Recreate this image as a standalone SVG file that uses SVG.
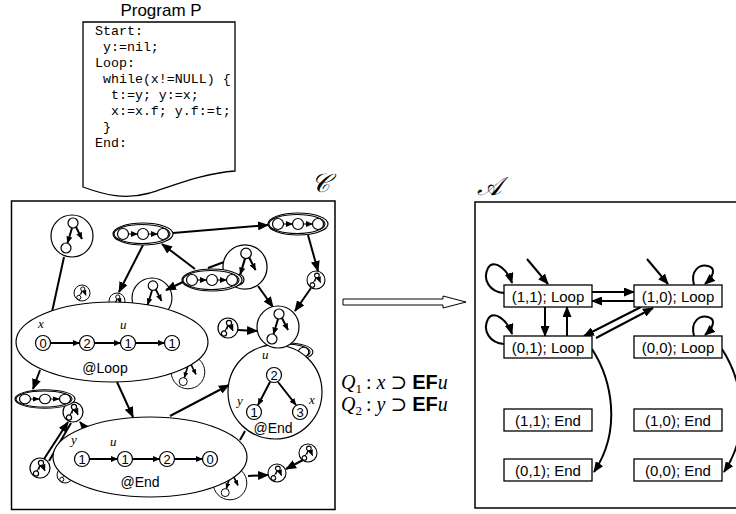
<svg xmlns="http://www.w3.org/2000/svg" xmlns:xlink="http://www.w3.org/1999/xlink" width="736" height="514" viewBox="0 0 736 514">
<style>
.ln{fill:none;stroke:#000;stroke-width:2}
.tl{fill:none;stroke:#000;stroke-width:1.1}
.wf{fill:#fff;stroke:#000;stroke-width:1.2}
.bx{fill:#fff;stroke:#000;stroke-width:1.3}
.mono{font-family:"Liberation Mono","Courier New",monospace;font-size:13.3px}
.sans{font-family:"Liberation Sans",Arial,sans-serif}
.it{font-family:"Liberation Serif","DejaVu Serif",serif;font-style:italic}
.nd{font-family:"Liberation Sans",Arial,sans-serif;font-size:13px;text-anchor:middle}
.st{font-family:"Liberation Sans",Arial,sans-serif;font-size:15px;text-anchor:middle}
</style>
<defs>
<marker id="ah" markerWidth="11" markerHeight="9" refX="10" refY="4.5" orient="auto" markerUnits="userSpaceOnUse"><path d="M0,0 L11,4.5 L0,9 z"/></marker>
<marker id="as" markerWidth="7" markerHeight="6" refX="6.5" refY="3" orient="auto" markerUnits="userSpaceOnUse"><path d="M0,0 L7,3 L0,6 z"/></marker>
<g id="tr">
<circle r="10" class="wf"/>
<circle cx="1" cy="-5" r="2.6" class="wf"/>
<circle cx="-4" cy="5.5" r="2.6" class="wf"/>
<line x1="0" y1="-2.5" x2="-3" y2="3" class="tl"/>
<line x1="-0.5" y1="-2.5" x2="-1" y2="1.5" class="tl"/>
<line x1="2.5" y1="-3" x2="5" y2="3" class="tl" marker-end="url(#as)"/>
</g>
<g id="pr">
<circle r="21" class="wf"/>
<circle cx="1" cy="-13" r="5" class="wf"/>
<circle cx="-6" cy="12" r="5" class="wf"/>
<line x1="0" y1="-8" x2="-4.5" y2="7" class="ln" stroke-width="1.6" marker-end="url(#as)"/>
<line x1="4" y1="-9" x2="10" y2="3" class="ln" stroke-width="1.6" marker-end="url(#as)"/>
</g>
<g id="ch">
<ellipse rx="30" ry="11" class="wf"/>
<ellipse cx="-1" rx="28" ry="9.5" class="tl" stroke-width="0.8"/>
<circle cx="-20" r="5.5" class="wf"/>
<circle cx="0" r="5.5" class="wf"/>
<circle cx="20" r="5.5" class="wf"/>
<line x1="-14.5" y1="0" x2="-5.5" y2="0" class="tl" stroke-width="1.6" marker-end="url(#as)"/>
<line x1="5.5" y1="0" x2="14.5" y2="0" class="tl" stroke-width="1.6" marker-end="url(#as)"/>
</g>
</defs>
<rect width="736" height="514" fill="#fff"/>

<g id="program">
<text x="161" y="16" class="sans" font-size="17" text-anchor="middle">Program P</text>
<path d="M83,22 H235 V171 C205,173 175,185 150,193 C125,200 105,195 83,187 Z" class="bx" stroke-width="1.2"/>
<text class="mono" xml:space="preserve"><tspan x="95" y="35">Start:</tspan><tspan x="95" y="51"> y:=nil;</tspan><tspan x="95" y="67">Loop:</tspan><tspan x="95" y="83"> while(x!=NULL) {</tspan><tspan x="95" y="99">  t:=y; y:=x;</tspan><tspan x="95" y="115">  x:=x.f; y.f:=t;</tspan><tspan x="95" y="131"> }</tspan><tspan x="95" y="147">End:</tspan></text>
</g>

<g id="C-box">
<text x="311" y="192" class="it" font-size="26">𝒞</text>
<rect x="11.5" y="201" width="323.5" height="308.5" fill="#fff" stroke="#000" stroke-width="1.5"/>
</g>

<g id="back-nodes">
<g id="p3"><use xlink:href="#pr" transform="translate(152,298) scale(0.95)"/></g>
<g id="tc"><use xlink:href="#tr" transform="translate(117,301) scale(0.8)"/></g>
<g id="p5"><use xlink:href="#pr" transform="translate(188,372) scale(0.8)"/></g>
<g id="p6"><use xlink:href="#pr" transform="translate(230,483) scale(0.8)"/></g>
<g id="p7"><use xlink:href="#tr" transform="translate(65,475) scale(0.8)"/></g>
<g id="c5"><use xlink:href="#ch" transform="translate(285,352) scale(0.93,0.85)"/></g>
<g id="te"><use xlink:href="#tr" transform="translate(73,412)"/></g>
</g>

<g id="connectors">
<line x1="64" y1="257" x2="52" y2="312" class="ln"/>
<line x1="173" y1="233" x2="268" y2="225" class="ln" marker-end="url(#ah)"/>
<line x1="308" y1="235" x2="318" y2="271" class="ln" marker-end="url(#ah)"/>
<line x1="311" y1="288" x2="295" y2="311" class="ln" marker-end="url(#ah)"/>
<line x1="258" y1="286" x2="273" y2="307" class="ln" marker-end="url(#ah)"/>
<line x1="195" y1="269" x2="162" y2="244" class="ln" marker-end="url(#ah)"/>
<line x1="183" y1="282" x2="166" y2="290" class="ln" marker-end="url(#ah)"/>
<line x1="143" y1="245" x2="119" y2="292" class="ln" marker-end="url(#ah)"/>
<line x1="208" y1="268" x2="224" y2="262" class="ln"/>
<line x1="238" y1="330" x2="257" y2="331" class="ln" marker-end="url(#ah)"/>
<line x1="40" y1="370" x2="33" y2="389" class="ln" marker-end="url(#ah)"/>
<line x1="117" y1="382" x2="133" y2="417" class="ln" marker-end="url(#ah)"/>
<line x1="170" y1="416" x2="229" y2="385" class="ln" marker-end="url(#ah)"/>
<line x1="240" y1="440" x2="245" y2="431" class="ln"/>
<line x1="44" y1="459" x2="68" y2="422" class="ln" marker-end="url(#ah)"/>
<line x1="49" y1="461" x2="71" y2="423" class="ln"/>
<line x1="88" y1="432" x2="80" y2="422" class="ln" marker-end="url(#ah)"/>
<line x1="248" y1="476" x2="268" y2="475" class="ln" marker-end="url(#ah)"/>
<line x1="303" y1="460" x2="286" y2="469" class="ln" marker-end="url(#ah)"/>
</g>

<g id="loop-state">
<ellipse cx="112" cy="342" rx="96" ry="40" class="wf" stroke-width="1.3"/>
<text x="38" y="328" class="it" font-size="13">x</text>
<text x="120" y="329" class="it" font-size="13">u</text>
<circle cx="43" cy="343" r="7.5" class="wf"/><text x="43" y="347.5" class="nd">0</text>
<circle cx="87" cy="343" r="7.5" class="wf"/><text x="87" y="347.5" class="nd">2</text>
<circle cx="128" cy="343" r="7.5" class="wf"/><text x="128" y="347.5" class="nd">1</text>
<circle cx="172" cy="343" r="7.5" class="wf"/><text x="172" y="347.5" class="nd">1</text>
<line x1="50.5" y1="343" x2="79.5" y2="343" class="ln" stroke-width="1.4" marker-end="url(#as)"/>
<line x1="94.5" y1="343" x2="120.5" y2="343" class="ln" stroke-width="1.4" marker-end="url(#as)"/>
<line x1="135.5" y1="343" x2="164.5" y2="343" class="ln" stroke-width="1.4" marker-end="url(#as)"/>
<text x="105" y="373" class="sans" font-size="14" text-anchor="middle">@Loop</text>
</g>

<g id="end-state">
<ellipse cx="150" cy="457" rx="97" ry="40" class="wf" stroke-width="1.3"/>
<text x="71" y="444" class="it" font-size="13">y</text>
<text x="110" y="446" class="it" font-size="13">u</text>
<circle cx="82" cy="459" r="7.5" class="wf"/><text x="82" y="463.5" class="nd">1</text>
<circle cx="125" cy="459" r="7.5" class="wf"/><text x="125" y="463.5" class="nd">1</text>
<circle cx="167" cy="459" r="7.5" class="wf"/><text x="167" y="463.5" class="nd">2</text>
<circle cx="210" cy="459" r="7.5" class="wf"/><text x="210" y="463.5" class="nd">0</text>
<line x1="89.5" y1="459" x2="117.5" y2="459" class="ln" stroke-width="1.4" marker-end="url(#as)"/>
<line x1="132.5" y1="459" x2="159.5" y2="459" class="ln" stroke-width="1.4" marker-end="url(#as)"/>
<line x1="174.5" y1="459" x2="202.5" y2="459" class="ln" stroke-width="1.4" marker-end="url(#as)"/>
<text x="140" y="487" class="sans" font-size="14" text-anchor="middle">@End</text>
</g>

<g id="end-tree">
<circle cx="275" cy="392" r="47" class="wf" stroke-width="1.3"/>
<text x="262" y="359" class="it" font-size="13">u</text>
<text x="237" y="405" class="it" font-size="13">y</text>
<text x="309" y="404" class="it" font-size="13">x</text>
<circle cx="274" cy="375" r="7.5" class="wf"/><text x="274" y="379.5" class="nd">2</text>
<circle cx="254" cy="412" r="7.5" class="wf"/><text x="254" y="416.5" class="nd">1</text>
<circle cx="300" cy="412" r="7.5" class="wf"/><text x="300" y="416.5" class="nd">3</text>
<line x1="270" y1="382" x2="258" y2="405" class="ln" stroke-width="1.4" marker-end="url(#as)"/>
<line x1="278" y1="382" x2="296" y2="405" class="ln" stroke-width="1.4" marker-end="url(#as)"/>
<text x="273" y="433" class="sans" font-size="14" text-anchor="middle">@End</text>
</g>

<g id="p1"><use xlink:href="#pr" transform="translate(72,236)"/></g>
<g id="p2"><use xlink:href="#pr" transform="translate(245,267) scale(1.05)"/></g>
<g id="p4"><use xlink:href="#pr" transform="translate(278,327)"/></g>
<g id="c1"><use xlink:href="#ch" transform="translate(143,234)"/></g>
<g id="c2"><use xlink:href="#ch" transform="translate(298,224)"/></g>
<g id="c3"><use xlink:href="#ch" transform="translate(212,280)"/></g>
<g id="c4"><use xlink:href="#ch" transform="translate(45,399) scale(1,0.85)"/></g>
<g id="ta"><use xlink:href="#tr" transform="translate(316,280) scale(0.9)"/></g>
<g id="tb"><use xlink:href="#tr" transform="translate(82,293) scale(0.8)"/></g>
<g id="td"><use xlink:href="#tr" transform="translate(228,328)"/></g>
<g id="tf"><use xlink:href="#tr" transform="translate(40,468)"/></g>
<g id="tg"><use xlink:href="#tr" transform="translate(277,473) scale(0.9)"/></g>
<g id="th"><use xlink:href="#tr" transform="translate(308,453) scale(0.9)"/></g>

<g id="abstraction-arrow">
<path d="M343,299 H443 V296 L466,302 L443,308 V305 H343 Z" fill="#fff" stroke="#000" stroke-width="1"/>
</g>

<g id="queries" font-family="Liberation Serif,DejaVu Serif,serif" font-size="20">
<text x="341" y="389"><tspan font-style="italic">Q</tspan><tspan font-size="13" dy="4">1</tspan><tspan dy="-4" dx="4">:</tspan><tspan dx="5" font-style="italic">x</tspan><tspan dx="5">⊃</tspan><tspan dx="5" font-family="Liberation Sans,Arial,sans-serif" font-weight="bold">EF</tspan><tspan font-style="italic">u</tspan></text>
<text x="341" y="411"><tspan font-style="italic">Q</tspan><tspan font-size="13" dy="4">2</tspan><tspan dy="-4" dx="4">:</tspan><tspan dx="5" font-style="italic">y</tspan><tspan dx="5">⊃</tspan><tspan dx="5" font-family="Liberation Sans,Arial,sans-serif" font-weight="bold">EF</tspan><tspan font-style="italic">u</tspan></text>
</g>

<g id="A-box">
<text x="477" y="195" class="it" font-size="26">𝒜</text>
<path d="M738,202 H475 V508 H738" fill="none" stroke="#000" stroke-width="1.5"/>
</g>

<g id="a-connectors">
<path d="M504,293 C490,292 482,280 488,268 C494,258 508,270 512,283" class="ln" marker-end="url(#ah)"/>
<path d="M504,344 C490,343 482,331 488,319 C494,309 508,321 512,334" class="ln" marker-end="url(#ah)"/>
<line x1="527" y1="259" x2="548" y2="284" class="ln" marker-end="url(#ah)"/>
<line x1="647" y1="259" x2="668" y2="284" class="ln" marker-end="url(#ah)"/>
<path d="M694,285 C690,270 700,264 708,266 C716,268 714,276 705,284" class="ln" marker-end="url(#ah)"/>
<path d="M694,336 C690,321 700,315 708,317 C716,319 714,327 705,335" class="ln" marker-end="url(#ah)"/>
<line x1="592" y1="292" x2="634" y2="292" class="ln" marker-end="url(#ah)"/>
<line x1="634" y1="301" x2="592" y2="301" class="ln" marker-end="url(#ah)"/>
<line x1="545" y1="307" x2="545" y2="336" class="ln" marker-end="url(#ah)"/>
<line x1="567" y1="336" x2="567" y2="307" class="ln" marker-end="url(#ah)"/>
<line x1="641" y1="307" x2="584" y2="336" class="ln" marker-end="url(#ah)"/>
<line x1="596" y1="338" x2="653" y2="308" class="ln" marker-end="url(#ah)"/>
<path d="M592,349 C612,380 622,430 594,472" class="ln" marker-end="url(#ah)"/>
<path d="M722,349 C742,380 752,430 724,472" class="ln" marker-end="url(#ah)"/>
</g>

<g id="s11L"><rect x="504" y="285" width="88" height="22" class="bx"/><text x="548" y="301.5" class="st">(1,1); Loop</text></g>
<g id="s10L"><rect x="634" y="285" width="88" height="22" class="bx"/><text x="678" y="301.5" class="st">(1,0); Loop</text></g>
<g id="s01L"><rect x="504" y="336" width="88" height="22" class="bx"/><text x="548" y="352.5" class="st">(0,1); Loop</text></g>
<g id="s00L"><rect x="634" y="336" width="88" height="22" class="bx"/><text x="678" y="352.5" class="st">(0,0); Loop</text></g>
<g id="s11E"><rect x="504" y="409" width="88" height="22" class="bx"/><text x="548" y="425.5" class="st">(1,1); End</text></g>
<g id="s10E"><rect x="634" y="409" width="88" height="22" class="bx"/><text x="678" y="425.5" class="st">(1,0); End</text></g>
<g id="s01E"><rect x="504" y="459" width="88" height="22" class="bx"/><text x="548" y="475.5" class="st">(0,1); End</text></g>
<g id="s00E"><rect x="634" y="459" width="88" height="22" class="bx"/><text x="678" y="475.5" class="st">(0,0); End</text></g>
</svg>
